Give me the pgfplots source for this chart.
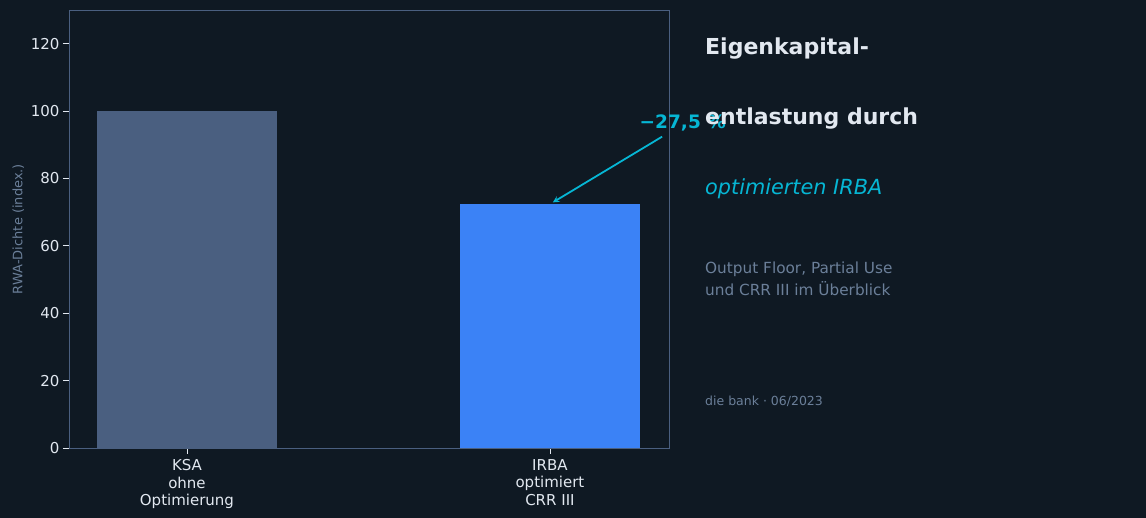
\documentclass[border=0pt]{standalone}
\usepackage{pgfplots}
\pgfplotsset{compat=1.18}
\usepackage{fontspec}
\setmainfont{DejaVu Sans}
\definecolor{bg}{HTML}{0F1923}
\definecolor{ksa}{HTML}{4A5F80}
\definecolor{irba}{HTML}{3B82F6}
\definecolor{accent}{HTML}{06B6D4}
\definecolor{txt}{HTML}{E2E8F0}
\definecolor{muted}{HTML}{6B7F99}
\definecolor{axisc}{HTML}{4A5F80}
\begin{document}
\begin{tikzpicture}[x=1pt,y=1pt]
\fill[bg] (-69,-70) rectangle (1077,448);
\begin{axis}[
    at={(0,0)}, anchor=south west,
    width=600pt, height=438pt, scale only axis,
    xmin=-0.325, xmax=1.328,
    ymin=0, ymax=130,
    ytick={0,20,...,120},
    xtick={0,1},
    xtick pos=bottom, ytick pos=left,
    xticklabels={{KSA\\ohne\\Optimierung},{IRBA\\optimiert\\CRR III}},
    xticklabel style={align=center, font=\fontsize{15}{17.5}\selectfont, text=txt, yshift=-2pt},
    yticklabel style={font=\fontsize{15}{17}\selectfont, text=txt},
    /pgf/number format/assume math mode=true,
    axis line style={axisc, line width=0.8pt},
    tick style={txt, line width=0.8pt},
    tick align=outside,
    major tick length=6pt,
    ylabel={RWA-Dichte (index.)},
    ylabel style={font=\fontsize{13}{15}\selectfont, text=muted},
    clip=false,
]
\addplot[ybar, bar width=180pt, fill=ksa, draw=none] coordinates {(0,100)};
\addplot[ybar, bar width=180pt, fill=irba, draw=none] coordinates {(1,72.5)};
\draw[-stealth, accent, line width=1.8pt] (axis cs:1.309,92.4) -- (axis cs:1.008,72.9);
\node[accent, font=\bfseries\fontsize{18.5}{21}\selectfont] at (axis cs:1.366,96.5) {−27,5 \%};
\end{axis}
\begin{scope}[every node/.style={anchor=base west, inner sep=0pt}]
\node[txt, font=\bfseries\fontsize{22}{26}\selectfont] at (636,393) {Eigenkapital-};
\node[txt, font=\bfseries\fontsize{22}{26}\selectfont] at (636,323) {entlastung durch};
\node[accent, font=\itshape\fontsize{20.8}{24}\selectfont] at (636,253) {optimierten IRBA};
\node[muted, font=\fontsize{15.3}{18}\selectfont] at (636,174) {Output Floor, Partial Use};
\node[muted, font=\fontsize{15.3}{18}\selectfont] at (636,152) {und CRR III im Überblick};
\node[muted, font=\fontsize{12.5}{15}\selectfont] at (636,42) {die bank · 06/2023};
\end{scope}
\end{tikzpicture}
\end{document}
